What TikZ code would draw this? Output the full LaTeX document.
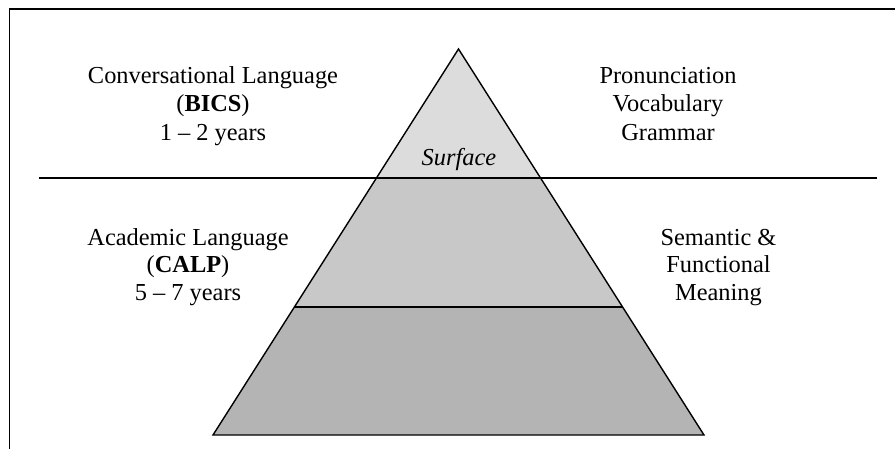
\documentclass[tikz,border=0pt]{standalone}
\usepackage{fontspec}
\setmainfont{Liberation Serif}
\begin{document}
\begin{tikzpicture}[x=1pt,y=-1pt,
  txt/.style={anchor=base, inner sep=0pt, font=\fontsize{24.4}{28.5}\selectfont},
  outline/.style={draw=black, line width=1.4pt, line join=miter},
  rule/.style={draw=black, line width=1.7pt}]
\useasboundingbox (0,0) rectangle (895,448);
\definecolor{topgray}{RGB}{220,220,220}
\definecolor{midgray}{RGB}{200,200,200}
\definecolor{botgray}{RGB}{180,180,180}
% frame
\coordinate (fbl) at (9.5,449);
\coordinate (ftl) at (9.5,9);
\coordinate (ftr) at (896,9);
\draw[rule] (fbl) -- (ftl) -- (ftr);
% pyramid
\coordinate (A) at (458.5,49);
\coordinate (BL) at (213,435);
\coordinate (BR) at (704,435);
\coordinate (L1) at (376.45,178);
\coordinate (R1) at (540.55,178);
\coordinate (L2) at (294.4,307);
\coordinate (R2) at (622.6,307);
\fill[topgray] (A) -- (L1) -- (R1) -- cycle;
\fill[midgray] (L1) -- (L2) -- (R2) -- (R1) -- cycle;
\fill[botgray] (L2) -- (BL) -- (BR) -- (R2) -- cycle;
\draw[outline] (BL) -- (A) -- (BR) -- cycle;
\draw[outline] (L2) -- (R2);
% water line
\coordinate (wl) at (39,178);
\coordinate (wr) at (877,178);
\draw[rule] (wl) -- (wr);
% texts
\node[txt] (c1) at (213,83) {Conversational Language};
\node[txt] (c2) at (213,111.5) {(\textbf{BICS})};
\node[txt] (c3) at (213,140) {1 \textendash\ 2 years};
\node[txt] (p1) at (668,83) {Pronunciation};
\node[txt] (p2) at (668,111.5) {Vocabulary};
\node[txt] (p3) at (668,140) {Grammar};
\node[txt] (s) at (459,165) {\itshape Surface};
\node[txt] (a1) at (188,245) {Academic Language};
\node[txt] (a2) at (188,272.5) {(\textbf{CALP})};
\node[txt] (a3) at (188,300) {5 \textendash\ 7 years};
\node[txt] (m1) at (718.5,245) {Semantic \&};
\node[txt] (m2) at (718.5,272.5) {Functional};
\node[txt] (m3) at (718.5,300) {Meaning};
\end{tikzpicture}
\end{document}
